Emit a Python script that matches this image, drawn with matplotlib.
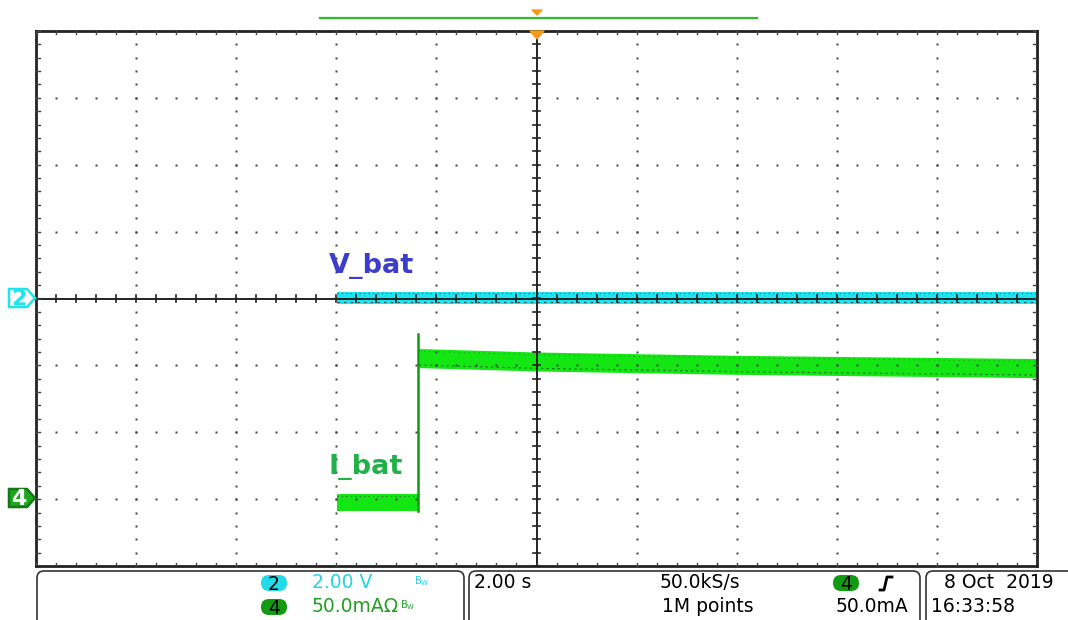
import numpy as np
import matplotlib.pyplot as plt
from matplotlib.patches import Polygon, FancyBboxPatch

# skala oscyloskopu
t_div = 2.0        # s/div
ch2_scale = 2.00   # V/div
ch4_scale = 50.0   # mA/div
ch2_ref = 0.0      # pozycja markera kanału 2 [div]
ch4_ref = -3.0     # pozycja markera kanału 4 [div]

# V_bat - obwiednia pasma szumu [V wzgl. markera]
t_v = [-3.98, 10.0]
v_hi = [0.20, 0.20]
v_lo = [-0.15, -0.15]

# I_bat - obwiednia pasma szumu [mA]
t_i_low = [-3.98, -2.37]
i_low_hi = [3.9, 3.9]
i_low_lo = [-8.8, -8.8]
t_i_high = [-2.35, 0.0, 4.0, 10.0]
i_high_hi = [112.6, 110.0, 107.5, 105.1]
i_high_lo = [98.3, 95.8, 93.3, 90.8]
t_step = -2.37
i_step = [-8.8, 123.8]

# napisy panelu
ch2_txt = '2.00 V'
ch4_txt = '50.0mA\u03a9'
tb_txt = '2.00 s'
rate_txt = '50.0kS/s'
pts_txt = '1M points'
trig_txt = '50.0mA'
date_txt = '8 Oct  2019'
time_txt = '16:33:58'

W, H = 1068, 620
fig = plt.figure(figsize=(W / 100, H / 100), dpi=100)
x0, x1, y0, y1 = 36, 1037, 31, 566
ax = fig.add_axes([x0 / W, 1 - y1 / H, (x1 - x0) / W, (y1 - y0) / H])
ax.set_xlim(-10, 10)
ax.set_ylim(-4, 4)
ax.set_xticks([])
ax.set_yticks([])
for s in ax.spines.values():
    s.set_linewidth(2)
    s.set_color('#222222')

def to_div(vals, scale, ref):
    return np.array(vals) / scale + ref

cyan = '#1ee3f0'
green = '#14e614'

# ślady
v_lo_d = to_div(v_lo, ch2_scale, ch2_ref)
v_hi_d = to_div(v_hi, ch2_scale, ch2_ref)
ax.fill_between(t_v, v_lo_d, v_hi_d, color=cyan, lw=0, zorder=2)
ax.plot(t_v, v_hi_d - 0.02, color='#334444', lw=0.8, ls=(0, (1, 3)), zorder=2)
ax.plot(t_v, v_lo_d + 0.02, color='#334444', lw=0.8, ls=(0, (2, 4)), zorder=2)

lo_lo = to_div(i_low_lo, ch4_scale, ch4_ref)
lo_hi = to_div(i_low_hi, ch4_scale, ch4_ref)
ax.fill_between(t_i_low, lo_lo, lo_hi, color=green, lw=0, zorder=2)
ax.plot(t_i_low, lo_hi - 0.03, color='#226622', lw=0.8, ls=(0, (1, 3)), zorder=2)

hi_lo = to_div(i_high_lo, ch4_scale, ch4_ref)
hi_hi = to_div(i_high_hi, ch4_scale, ch4_ref)
ax.fill_between(t_i_high, hi_lo, hi_hi, color=green, lw=0, zorder=2)
ax.plot(t_i_high, hi_lo + 0.04, color='#226622', lw=0.8, ls=(0, (2, 3)), zorder=2)
ax.plot(t_i_high, hi_hi - 0.04, color='#226622', lw=0.6, ls=(0, (1, 5)), zorder=2)
ax.plot([t_step, t_step], to_div(i_step, ch4_scale, ch4_ref), color='#0f9a0f', lw=1.8, zorder=2)

# siatka kropkowana
dot = dict(ls='none', marker='s', ms=1.5, color='#444444', mec='none', zorder=3)
minor_t = np.arange(-10, 10.01, 0.4)
minor_v = np.arange(-4, 4.01, 0.2)
for gx in np.arange(-8, 9, 2):
    if gx != 0:
        ax.plot(np.full_like(minor_v, gx), minor_v, **dot)
for gy in np.arange(-3, 4, 1):
    if gy != 0:
        ax.plot(minor_t, np.full_like(minor_t, gy), **dot)

# krzyż środkowy
ax.axhline(0, color='#222222', lw=1.4, zorder=4)
ax.axvline(0, color='#222222', lw=1.4, zorder=4)
for tt in minor_t:
    ax.plot([tt, tt], [-0.045, 0.045], color='#222222', lw=1.2, zorder=4)
    ax.plot([tt, tt], [3.95, 4.0], color='#444444', lw=1, zorder=4)
    ax.plot([tt, tt], [-4.0, -3.95], color='#444444', lw=1, zorder=4)
for vv in minor_v:
    ax.plot([-0.06, 0.06], [vv, vv], color='#222222', lw=1.2, zorder=4)
    ax.plot([-10, -9.93], [vv, vv], color='#444444', lw=1, zorder=4)
    ax.plot([9.93, 10], [vv, vv], color='#444444', lw=1, zorder=4)

# etykiety śladów
ax.text(-4.15, 0.29, 'V_bat', color='#3d3dcc', fontsize=19.5, fontweight='bold',
        ha='left', va='bottom', zorder=5)
ax.text(-4.15, -2.72, 'I_bat', color='#22b04a', fontsize=19.5, fontweight='bold',
        ha='left', va='bottom', zorder=5)

# nakładka w pikselach
ov = fig.add_axes([0, 0, 1, 1])
ov.set_xlim(0, W)
ov.set_ylim(H, 0)
ov.axis('off')
ov.patch.set_visible(False)

# znacznik wyzwalania i linia u góry
ov.plot([320, 757], [18, 18], color='#2cbb2c', lw=1.6)
ov.add_patch(Polygon([(532, 10), (542, 10), (537, 15)], closed=True, color='#f59a1a'))
ov.add_patch(Polygon([(530, 31), (544, 31), (537, 39)], closed=True, color='#f59a1a', zorder=6))

# markery kanałów
def marker(yc, face, edge, label, tcol):
    pts = [(9, yc - 9), (27, yc - 9), (35, yc), (27, yc + 9), (9, yc + 9)]
    ov.add_patch(Polygon(pts, closed=True, facecolor=face, edgecolor=edge, lw=1.8))
    ov.text(19, yc + 1, label, color=tcol, fontsize=16, fontweight='bold',
            ha='center', va='center')

marker(298, 'white', cyan, '2', cyan)
marker(498, '#1fa61f', '#137a13', '4', 'white')

# panel informacyjny
for bx0, bx1 in [(37, 464), (469, 920), (926, 1080)]:
    ov.add_patch(FancyBboxPatch((bx0, 571), bx1 - bx0, 60,
                                boxstyle='round,pad=0,rounding_size=7',
                                facecolor='white', edgecolor='#333333', lw=1.2))

def pill(xc, yc, face, label):
    ov.add_patch(FancyBboxPatch((xc - 13, yc - 8), 26, 16,
                                boxstyle='round,pad=0,rounding_size=8',
                                facecolor=face, edgecolor='none'))
    ov.text(xc, yc + 1, label, fontsize=13.5, ha='center', va='center', color='black')

r1, r2 = 583, 607
fs = 13.5
pill(274, r1, '#22dbe8', '2')
pill(274, r2, '#129a12', '4')
ov.text(312, r1, ch2_txt, color='#22d3e3', fontsize=fs, va='center')
ov.text(312, r2, ch4_txt, color='#22a022', fontsize=fs, va='center')
ov.text(414, r1 - 2, 'B$_{\\rm W}$', color='#22d3e3', fontsize=7, va='center')
ov.text(400, r2 - 2, 'B$_{\\rm W}$', color='#22a022', fontsize=7, va='center')
ov.text(474, r1, tb_txt, color='black', fontsize=fs, va='center')
ov.text(660, r1, rate_txt, color='black', fontsize=fs, va='center')
ov.text(662, r2, pts_txt, color='black', fontsize=fs, va='center')
pill(846, r1, '#129a12', '4')
ov.plot([880, 884, 887, 892], [590, 590, 577, 577], color='black', lw=2)
ov.text(908, r2, trig_txt, color='black', fontsize=fs, va='center', ha='right')
ov.text(944, r1, date_txt, color='black', fontsize=fs, va='center')
ov.text(931, r2, time_txt, color='black', fontsize=fs, va='center')

fig.savefig('out.png', dpi=100)
